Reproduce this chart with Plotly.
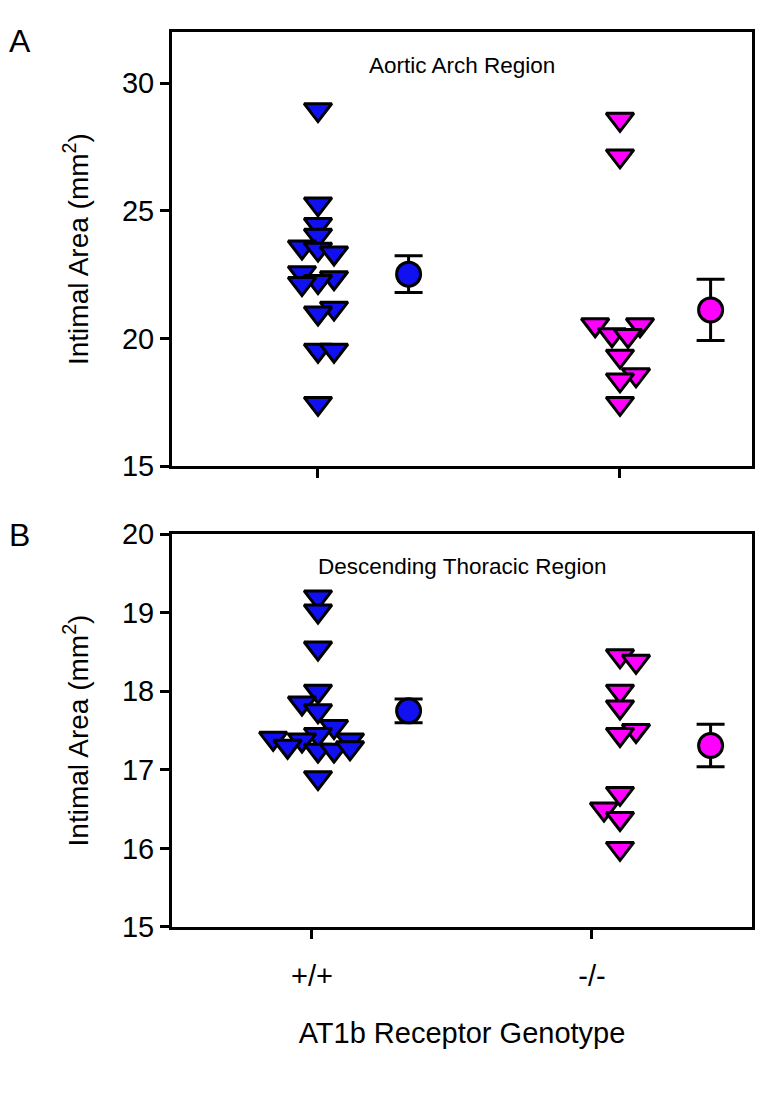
import plotly.graph_objects as go

# group labels and x positions (group index)
genotypes = ["+/+", "-/-"]

# Panel A - Aortic Arch Region (mm^2)
arch_wt = [28.96, 25.27, 24.46, 24.04, 23.58, 23.50, 23.35, 22.58, 22.38, 22.23, 22.15, 21.19, 21.00, 19.54, 19.54, 17.46]
arch_wt_slot = [0, 0, 0, 0, -1, 0, 1, -1, 1, 0, -1, 1, 0, 0, 1, 0]
arch_ko = [28.58, 27.15, 20.54, 20.54, 20.15, 20.12, 19.31, 18.58, 18.38, 17.46]
arch_ko_slot = [0, 0, -1.55, 1.25, -0.5, 0.5, 0, 1, 0, 0]
arch_mean = [22.52, 21.12]
arch_sem = [0.72, 1.20]

# Panel B - Descending Thoracic Region (mm^2)
thor_wt = [19.20, 19.02, 18.55, 18.00, 17.85, 17.75, 17.55, 17.45, 17.38, 17.40, 17.30, 17.38, 17.25, 17.25, 17.28, 16.90]
thor_wt_slot = [0, 0, 0, 0, -1, 0, 1, 0, -1, -2.8, -1.9, 2, 0, 1, 2, 0]
thor_ko = [18.45, 18.38, 18.00, 17.80, 17.50, 17.45, 16.70, 16.50, 16.38, 16.00]
thor_ko_slot = [0, 1, 0, 0, 1, 0, 0, -1, 0, 0]
thor_mean = [17.75, 17.31]
thor_sem = [0.15, 0.27]

colors = ["#1010f0", "#ff00ff"]
step = 0.053      # jitter step between neighbouring triangles
mean_shift = 0.30  # mean +/- SEM drawn to the right of each group
FONT = "Liberation Sans, Arial, sans-serif"

fig = go.Figure()

def add_panel(groups, slots, means, sems, xa, ya):
    for g, (vals, sl) in enumerate(zip(groups, slots)):
        fig.add_trace(go.Scatter(
            x=[g + s * step for s in sl], y=vals, mode="markers",
            xaxis=xa, yaxis=ya, showlegend=False,
            marker=dict(symbol="triangle-down", size=24, color=colors[g],
                        line=dict(color="black", width=3))))
        fig.add_trace(go.Scatter(
            x=[g + mean_shift], y=[means[g]], mode="markers",
            xaxis=xa, yaxis=ya, showlegend=False,
            error_y=dict(type="data", array=[sems[g]], color="black",
                         thickness=3, width=14),
            marker=dict(symbol="circle", size=24, color=colors[g],
                        line=dict(color="black", width=3))))

add_panel([arch_wt, arch_ko], [arch_wt_slot, arch_ko_slot], arch_mean, arch_sem, "x", "y")
add_panel([thor_wt, thor_ko], [thor_wt_slot, thor_ko_slot], thor_mean, thor_sem, "x2", "y2")

xr = [-0.4834, 1.4371]
ax_common = dict(showgrid=False, zeroline=False, showline=True, linecolor="black",
                 linewidth=3, mirror=True, ticks="outside", ticklen=9, tickwidth=3,
                 tickcolor="black", tickfont=dict(family=FONT, size=29, color="black"))

# page body has an 8px margin, so the figure is 8px smaller than the window
fig.update_layout(
    width=771, height=1093, plot_bgcolor="white", paper_bgcolor="white",
    margin=dict(l=164, r=27, t=8, b=174),
    font=dict(family=FONT, color="black"),
    xaxis=dict(ax_common, domain=[0, 1], range=xr, anchor="y",
               tickvals=[0, 1], showticklabels=False),
    yaxis=dict(ax_common, domain=[0.5148, 1], range=[15, 32], anchor="x",
               tickvals=[15, 20, 25, 30],
               title=dict(text="Intimal Area (mm<sup>2</sup>)", standoff=26,
                          font=dict(family=FONT, size=28))),
    xaxis2=dict(ax_common, domain=[0, 1], range=xr, anchor="y2",
                tickvals=[-0.02, 0.907], ticktext=genotypes, ticklabelstandoff=12,
                title=dict(text="AT1b Receptor Genotype", standoff=32,
                           font=dict(family=FONT, size=29))),
    yaxis2=dict(ax_common, domain=[0, 0.4391], range=[15, 20], anchor="x2",
                tickvals=[15, 16, 17, 18, 19, 20],
                title=dict(text="Intimal Area (mm<sup>2</sup>)", standoff=26,
                           font=dict(family=FONT, size=28))),
)

fig.add_annotation(text="Aortic Arch Region", xref="x domain", yref="y domain",
                   x=0.5, y=0.923, xanchor="center", yanchor="middle",
                   showarrow=False, font=dict(family=FONT, size=22.5))
fig.add_annotation(text="Descending Thoracic Region", xref="x2 domain", yref="y2 domain",
                   x=0.5, y=0.9175, xanchor="center", yanchor="middle",
                   showarrow=False, font=dict(family=FONT, size=22.5))
fig.add_annotation(text="A", xref="paper", yref="paper", x=-0.284, y=0.99,
                   xanchor="left", yanchor="middle", showarrow=False,
                   font=dict(family=FONT, size=32))
fig.add_annotation(text="B", xref="paper", yref="paper", x=-0.284, y=0.438,
                   xanchor="left", yanchor="middle", showarrow=False,
                   font=dict(family=FONT, size=32))

fig.write_html("out.html")
